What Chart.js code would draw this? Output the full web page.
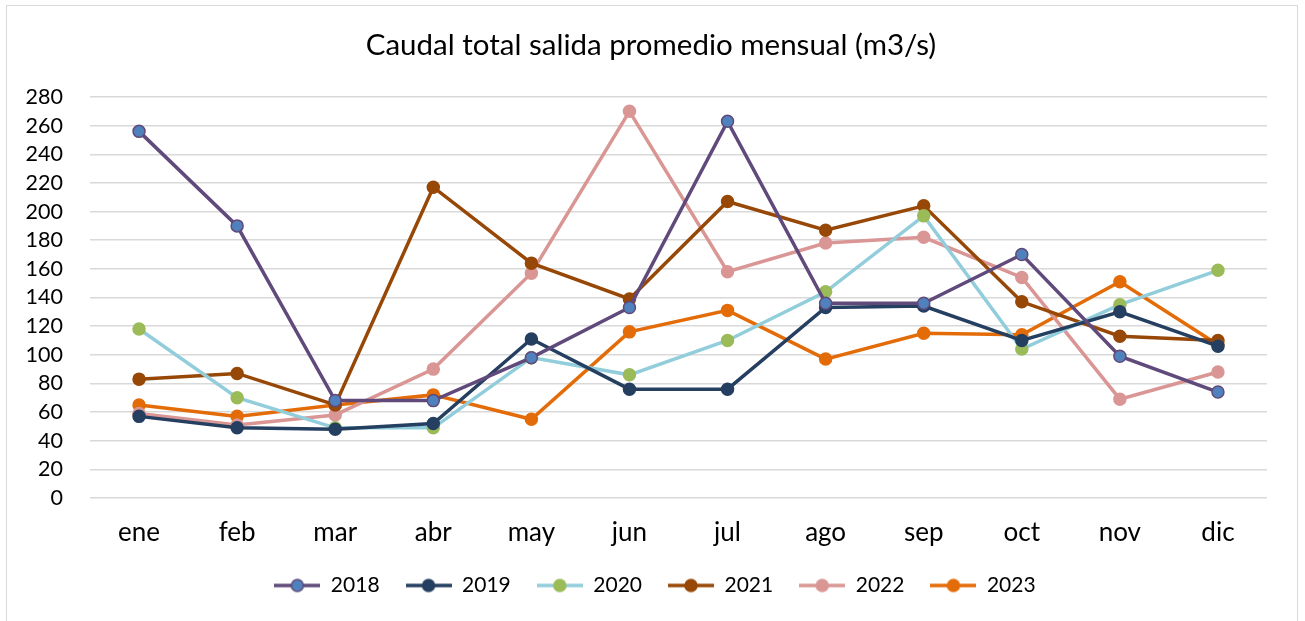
<!DOCTYPE html>
<html>
<head>
<meta charset="utf-8">
<script src="https://cdn.jsdelivr.net/npm/chart.js@4.4.1/dist/chart.umd.min.js"></script>
<style>
    html, body { margin: 0; padding: 0; background: #fff; }
    #wrap { position: relative; width: 1305px; height: 621px; overflow: hidden; }
    #frame { position: absolute; left: 6px; top: 5px; width: 1290px; height: 640px; border: 1.5px solid #d9d9d9; pointer-events: none; }
    canvas { position: absolute; left: 0; top: 0; }
</style>
</head>
<body>
<div id="wrap">
    <canvas id="chart" width="1305" height="621"></canvas>
    <div id="frame"></div>
</div>
<script>
const months = ['ene', 'feb', 'mar', 'abr', 'may', 'jun', 'jul', 'ago', 'sep', 'oct', 'nov', 'dic'];
const years = ['2018', '2019', '2020', '2021', '2022', '2023'];

const flow2018 = [256, 190, 68, 68, 98, 133, 263, 136, 136, 170, 99, 74];
const flow2019 = [57, 49, 48, 52, 111, 76, 76, 133, 134, 110, 130, 106];
const flow2020 = [118, 70, 49, 49, 98, 86, 110, 144, 197, 104, 135, 159];
const flow2021 = [83, 87, 65, 217, 164, 139, 207, 187, 204, 137, 113, 110];
const flow2022 = [59, 51, 58, 90, 157, 270, 158, 178, 182, 154, 69, 88];
const flow2023 = [65, 57, 65, 72, 55, 116, 131, 97, 115, 114, 151, 107];

const yTicks = [0, 280, 20]; // min, max, step

const lineColors = ['#604a7b', '#243f60', '#92cddc', '#974806', '#d99694', '#e36c09'];
const markerFills = ['#4f81bd', '#243f60', '#9bbb59', '#974806', '#d99694', '#e36c09'];
const markerBorders = ['#604a7b', '#243f60', '#9bbb59', '#974806', '#d99694', '#e36c09'];

const series = [flow2018, flow2019, flow2020, flow2021, flow2022, flow2023];
const font = 'Lato';

// little line-with-dot icons for the legend, like the excel one
function makeIcon(i) {
    const c = document.createElement('canvas');
    c.width = 46;
    c.height = 16;
    const g = c.getContext('2d');
    g.strokeStyle = lineColors[i];
    g.lineWidth = 3.5;
    g.beginPath();
    g.moveTo(0, 8);
    g.lineTo(46, 8);
    g.stroke();
    g.beginPath();
    g.arc(23, 8, 6, 0, Math.PI * 2);
    g.fillStyle = markerFills[i];
    g.fill();
    g.lineWidth = 1.5;
    g.strokeStyle = markerBorders[i];
    g.stroke();
    return c;
}
const legendIcons = years.map((y, i) => makeIcon(i));

const datasets = years.map((year, i) => ({
    label: year,
    data: series[i],
    borderColor: lineColors[i],
    backgroundColor: markerFills[i],
    borderWidth: 3.5,
    pointRadius: 6,
    pointBackgroundColor: markerFills[i],
    pointBorderColor: markerBorders[i],
    pointBorderWidth: 1.5,
    tension: 0
}));

// excel centres title and legend a bit to the right of the canvas centre
const shiftBlocks = {
    id: 'shiftBlocks',
    afterLayout(chart) {
        chart.legend.left = 43;
        chart.titleBlock.left = 35;
    }
};

const ctx = document.getElementById('chart').getContext('2d');
new Chart(ctx, {
    type: 'line',
    data: { labels: months, datasets: datasets },
    plugins: [shiftBlocks],
    options: {
        responsive: false,
        animation: false,
        layout: { padding: { left: 0, right: 38, top: 0, bottom: 15 } },
        plugins: {
            title: {
                display: true,
                text: 'Caudal total salida promedio mensual (m3/s)',
                color: '#000',
                font: { family: font, size: 29.5, weight: 'normal', lineHeight: 1.2 },
                padding: { top: 27.3, bottom: 34.3 }
            },
            legend: {
                position: 'bottom',
                labels: {
                    usePointStyle: true,
                    pointStyleWidth: 46,
                    padding: 26,
                    color: '#000',
                    font: { family: font, size: 21 },
                    generateLabels(chart) {
                        const items = Chart.defaults.plugins.legend.labels.generateLabels(chart);
                        items.forEach((it, i) => { it.pointStyle = legendIcons[i]; });
                        return items;
                    }
                }
            },
            tooltip: { enabled: false }
        },
        scales: {
            x: {
                offset: true,
                grid: { display: false, drawTicks: false },
                border: { display: false },
                ticks: { color: '#000', padding: 19, font: { family: font, size: 26 } },
                afterFit(scale) { scale.height = 51; }
            },
            y: {
                min: yTicks[0],
                max: yTicks[1],
                grid: { color: '#d9d9d9', lineWidth: 1.5, drawTicks: false },
                border: { display: false },
                ticks: { stepSize: yTicks[2], autoSkip: false, color: '#000', padding: 27, font: { family: font, size: 21.5 } },
                afterFit(scale) { scale.width = 90; }
            }
        }
    }
});
</script>
</body>
</html>
